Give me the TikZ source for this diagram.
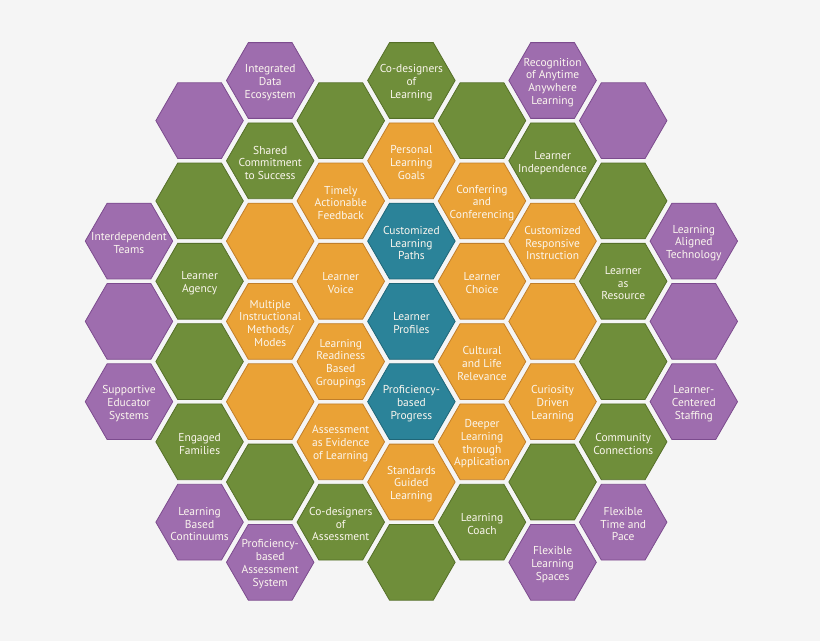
\documentclass[tikz,border=0pt]{standalone}
\usepackage{fontspec}
\setmainfont{PT Sans}
\usetikzlibrary{shapes.geometric}
\definecolor{bgc}{HTML}{F5F5F5}
\definecolor{purf}{HTML}{9E6DAE}
\definecolor{purd}{HTML}{7C4B8E}
\definecolor{grnf}{HTML}{6F8E3A}
\definecolor{grnd}{HTML}{556F28}
\definecolor{ornf}{HTML}{EAA236}
\definecolor{ornd}{HTML}{C07E2A}
\definecolor{tealf}{HTML}{2B8399}
\definecolor{teald}{HTML}{1F6678}
\definecolor{txt}{HTML}{FBF6EE}
\tikzset{
  hexa/.style={regular polygon, regular polygon sides=6, minimum size=65.6pt, inner sep=0pt, line width=0.6pt},
  pur/.style={hexa, fill=purf, draw=purd},
  grn/.style={hexa, fill=grnf, draw=grnd},
  orn/.style={hexa, fill=ornf, draw=ornd},
  tea/.style={hexa, fill=tealf, draw=teald},
  lbl/.style={text=txt, font=\fontsize{8.6}{9.6}\selectfont, align=center, inner sep=0pt, yshift=-1.5pt}
}
\newcommand{\hexcell}[5]{%
  \pgfmathsetmacro{\hxx}{411.4+70.6*(#2-4)}%
  \pgfmathsetmacro{\hxy}{80.5+40.15*#3}%
  \node[#4] (#1) at (\hxx,\hxy) {};
  \node[lbl] (#1t) at (#1.center) {#5};
}
\newcommand{\hexblank}[4]{%
  \pgfmathsetmacro{\hxx}{411.4+70.6*(#2-4)}%
  \pgfmathsetmacro{\hxy}{80.5+40.15*#3}%
  \node[#4] (#1) at (\hxx,\hxy) {};
}
\begin{document}
\begin{tikzpicture}[x=0.75pt,y=-0.75pt]
\fill[bgc] (0,0) rectangle (820,641);
\useasboundingbox (0,0) rectangle (820,641);
% column 0
\hexcell{a4}{0}{4}{pur}{Interdependent\\Teams}
\hexblank{a6}{0}{6}{pur}
\hexcell{a8}{0}{8}{pur}{Supportive\\Educator\\Systems}
% column 1
\hexblank{b1}{1}{1}{pur}
\hexblank{b3}{1}{3}{grn}
\hexcell{b5}{1}{5}{grn}{Learner\\Agency}
\hexblank{b7}{1}{7}{grn}
\hexcell{b9}{1}{9}{grn}{Engaged\\Families}
\hexcell{b11}{1}{11}{pur}{Learning\\Based\\Continuums}
% column 2
\hexcell{c0}{2}{0}{pur}{Integrated\\Data\\Ecosystem}
\hexcell{c2}{2}{2}{grn}{Shared\\Commitment\\to Success}
\hexblank{c4}{2}{4}{orn}
\hexcell{c6}{2}{6}{orn}{Multiple\\Instructional\\Methods/\\Modes}
\hexblank{c8}{2}{8}{orn}
\hexblank{c10}{2}{10}{grn}
\hexcell{c12}{2}{12}{pur}{Proficiency-\\based\\Assessment\\System}
% column 3
\hexblank{d1}{3}{1}{grn}
\hexcell{d3}{3}{3}{orn}{Timely\\Actionable\\Feedback}
\hexcell{d5}{3}{5}{orn}{Learner\\Voice}
\hexcell{d7}{3}{7}{orn}{Learning\\Readiness\\Based\\Groupings}
\hexcell{d9}{3}{9}{orn}{Assessment\\as Evidence\\of Learning}
\hexcell{d11}{3}{11}{grn}{Co-designers\\of\\Assessment}
% column 4
\hexcell{e0}{4}{0}{grn}{Co-designers\\of\\Learning}
\hexcell{e2}{4}{2}{orn}{Personal\\Learning\\Goals}
\hexcell{e4}{4}{4}{tea}{Customized\\Learning\\Paths}
\hexcell{e6}{4}{6}{tea}{Learner\\Profiles}
\hexcell{e8}{4}{8}{tea}{Proficiency-\\based\\Progress}
\hexcell{e10}{4}{10}{orn}{Standards\\Guided\\Learning}
\hexblank{e12}{4}{12}{grn}
% column 5
\hexblank{f1}{5}{1}{grn}
\hexcell{f3}{5}{3}{orn}{Conferring\\and\\Conferencing}
\hexcell{f5}{5}{5}{orn}{Learner\\Choice}
\hexcell{f7}{5}{7}{orn}{Cultural\\and Life\\Relevance}
\hexcell{f9}{5}{9}{orn}{Deeper\\Learning\\through\\Application}
\hexcell{f11}{5}{11}{grn}{Learning\\Coach}
% column 6
\hexcell{g0}{6}{0}{pur}{Recognition\\of Anytime\\Anywhere\\Learning}
\hexcell{g2}{6}{2}{grn}{Learner\\Independence}
\hexcell{g4}{6}{4}{orn}{Customized\\Responsive\\Instruction}
\hexblank{g6}{6}{6}{orn}
\hexcell{g8}{6}{8}{orn}{Curiosity\\Driven\\Learning}
\hexblank{g10}{6}{10}{grn}
\hexcell{g12}{6}{12}{pur}{Flexible\\Learning\\Spaces}
% column 7
\hexblank{h1}{7}{1}{pur}
\hexblank{h3}{7}{3}{grn}
\hexcell{h5}{7}{5}{grn}{Learner\\as\\Resource}
\hexblank{h7}{7}{7}{grn}
\hexcell{h9}{7}{9}{grn}{Community\\Connections}
\hexcell{h11}{7}{11}{pur}{Flexible\\Time and\\Pace}
% column 8
\hexcell{i4}{8}{4}{pur}{Learning\\Aligned\\Technology}
\hexblank{i6}{8}{6}{pur}
\hexcell{i8}{8}{8}{pur}{Learner-\\Centered\\Staffing}
\end{tikzpicture}
\end{document}
